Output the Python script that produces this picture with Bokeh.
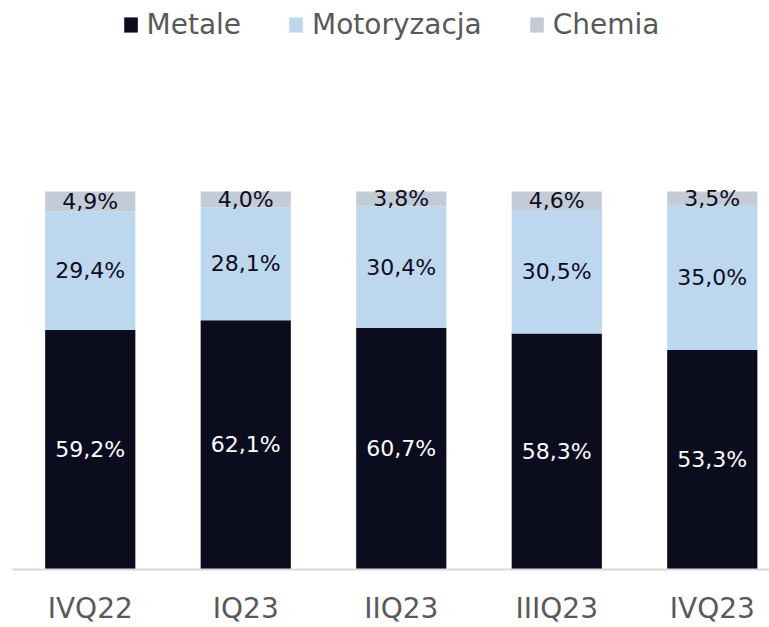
from bokeh.plotting import figure
from bokeh.models import ColumnDataSource, FixedTicker, Range1d, Legend, LegendItem, LabelSet
from bokeh.core.properties import value
from bokeh.embed import file_html
from bokeh.resources import INLINE

categories = ["IVQ22", "IQ23", "IIQ23", "IIIQ23", "IVQ23"]
metale = [59.2, 62.1, 60.7, 58.3, 53.3]
motoryzacja = [29.4, 28.1, 30.4, 30.5, 35.0]
chemia = [4.9, 4.0, 3.8, 4.6, 3.5]

series_names = ["Metale", "Motoryzacja", "Chemia"]
colors = ["#0b0c1e", "#bdd7ee", "#c3cbd7"]
label_colors = ["#ffffff", "#0b0c1e", "#0b0c1e"]
FONT = "DejaVu Sans"

def fmt(v):
    return f"{v:.1f}".replace(".", ",") + "%"

x = list(range(len(categories)))
totals = [a + b + c for a, b, c in zip(metale, motoryzacja, chemia)]
vals = [metale, motoryzacja, chemia]
data = {"x": x}
for name, v in zip(series_names, vals):
    data[name] = [vi / t for vi, t in zip(v, totals)]
source = ColumnDataSource(data)

p = figure(width=769, height=627, output_backend="svg", toolbar_location=None,
           x_range=Range1d(-0.5, 4.368), y_range=Range1d(0, 1.505),
           min_border_left=12, min_border_right=0, min_border_top=0, min_border_bottom=30)
p.outline_line_color = None
p.grid.visible = False
p.yaxis.visible = False

rends = p.vbar_stack(series_names, x="x", width=0.58, source=source,
                     color=colors, line_color=None)

# segment labels
bottom = [0.0] * len(x)
for name, v, lc in zip(series_names, vals, label_colors):
    frac = data[name]
    mid = [b + f / 2 for b, f in zip(bottom, frac)]
    bottom = [b + f for b, f in zip(bottom, frac)]
    ls = ColumnDataSource({"x": x, "y": mid, "t": [fmt(vi) for vi in v]})
    p.add_layout(LabelSet(x="x", y="y", text="t", source=ls, text_align="center",
                          text_baseline="middle", text_color=lc,
                          text_font_size="22px", text_font=value(FONT)))

ax = p.xaxis[0]
ax.ticker = FixedTicker(ticks=x)
ax.major_label_overrides = {i: c for i, c in enumerate(categories)}
ax.major_tick_line_color = None
ax.minor_tick_line_color = None
ax.major_tick_out = 0
ax.major_tick_in = 0
ax.axis_line_color = "#d9d9d9"
ax.axis_line_width = 2
ax.major_label_text_font = FONT
ax.major_label_text_font_size = "28px"
ax.major_label_text_color = "#595959"
ax.major_label_standoff = 22

legend = Legend(items=[LegendItem(label=n, renderers=[r]) for n, r in zip(series_names, rends)],
                orientation="horizontal", location="top_center",
                label_text_font=FONT, label_text_font_size="28px",
                label_text_color="#595959", glyph_width=17, glyph_height=19,
                spacing=46, label_standoff=8, padding=0, margin=8,
                border_line_color=None, background_fill_alpha=0)
p.add_layout(legend, "center")

open("out.html", "w").write(file_html(p, INLINE))
